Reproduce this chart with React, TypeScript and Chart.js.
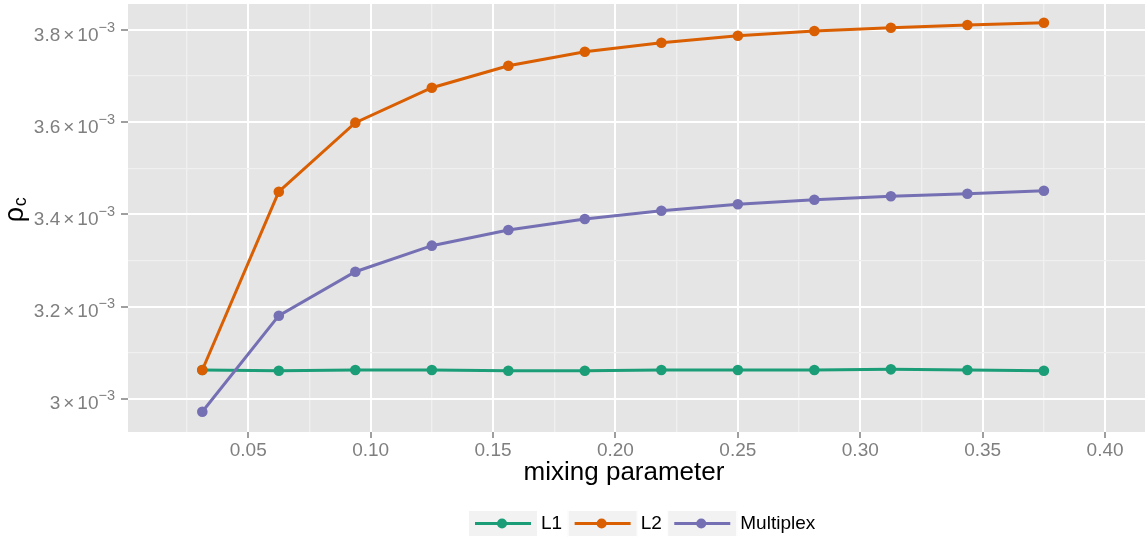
import React, { useEffect, useRef } from 'react';
import { Chart, registerables } from 'chart.js';

Chart.register(...registerables);

// ---- data ----
const seriesNames = ['L1', 'L2', 'Multiplex'];
const mixingParameter = [0.03125, 0.0625, 0.09375, 0.125, 0.15625, 0.1875, 0.21875, 0.25, 0.28125, 0.3125, 0.34375, 0.375];
const l1Values = [3.0622e-3, 3.0607e-3, 3.0622e-3, 3.0622e-3, 3.0607e-3, 3.0607e-3, 3.0622e-3, 3.0622e-3, 3.0622e-3, 3.0636e-3, 3.0622e-3, 3.0607e-3];
const l2Values = [3.0622e-3, 3.4491e-3, 3.5989e-3, 3.6748e-3, 3.7225e-3, 3.7529e-3, 3.7724e-3, 3.7876e-3, 3.7978e-3, 3.805e-3, 3.8109e-3, 3.8158e-3];
const multiplexValues = [2.9717e-3, 3.1801e-3, 3.2755e-3, 3.332e-3, 3.366e-3, 3.3899e-3, 3.4079e-3, 3.4218e-3, 3.4318e-3, 3.4391e-3, 3.4448e-3, 3.4513e-3];

const xMajorTicks = [0.05, 0.1, 0.15, 0.2, 0.25, 0.3, 0.35, 0.4];
const xMinorTicks = [0.025, 0.075, 0.125, 0.175, 0.225, 0.275, 0.325, 0.375];
const xTickLabels = ['0.05', '0.10', '0.15', '0.20', '0.25', '0.30', '0.35', '0.40'];
const yMajorTicks = [3.0e-3, 3.2e-3, 3.4e-3, 3.6e-3, 3.8e-3];
const yMinorTicks = [3.1e-3, 3.3e-3, 3.5e-3, 3.7e-3];
const yTickMantissas = ['3', '3.2', '3.4', '3.6', '3.8'];
const yTickExponent = '\u22123';
const xLimits = [0.0009, 0.4163];
const yLimits = [2.9277e-3, 3.8564e-3];

const xTitle = 'mixing parameter';
const yTitleMain = '\u03c1';
const yTitleSub = 'c';

const seriesColors = ['#1B9E77', '#D95F02', '#7570B3'];
const FONT = '"Liberation Sans", Arial, Helvetica, sans-serif';

const ggplotPlugin = {
  id: 'ggplotDecor',
  beforeDraw(chart: any) {
    const { ctx, chartArea: a } = chart;
    ctx.save();
    ctx.fillStyle = '#E5E5E5';
    ctx.fillRect(a.left, a.top, a.right - a.left, a.bottom - a.top);
    ctx.restore();
  },
  afterDraw(chart: any) {
    const { ctx, chartArea: a } = chart;
    const ys = chart.scales.y;
    ctx.save();
    // y tick labels with superscript exponent
    ctx.fillStyle = '#7F7F7F';
    ctx.textAlign = 'left';
    ctx.textBaseline = 'alphabetic';
    const endX = a.left - 13;
    yMajorTicks.forEach((v, i) => {
      const py = ys.getPixelForValue(v);
      ctx.font = `14.5px ${FONT}`;
      const supW = ctx.measureText(yTickExponent).width;
      const supX = endX - supW;
      ctx.fillText(yTickExponent, supX, py + 1.7);
      ctx.font = `19px ${FONT}`;
      const tenW = ctx.measureText('10').width;
      const timesW = ctx.measureText('\u00d7').width;
      let x = supX - tenW;
      ctx.fillText('10', x, py + 10.7);
      x -= 3 + timesW;
      ctx.fillText('\u00d7', x, py + 10.7);
      const mW = ctx.measureText(yTickMantissas[i]).width;
      x -= 3 + mW;
      ctx.fillText(yTickMantissas[i], x, py + 10.7);
    });

    // x title
    ctx.fillStyle = '#000000';
    ctx.font = `26px ${FONT}`;
    ctx.textAlign = 'center';
    ctx.fillText(xTitle, 624, 479.5);

    // y title (rho with subscript c), rotated
    ctx.save();
    ctx.translate(23, 210);
    ctx.rotate(-Math.PI / 2);
    ctx.textAlign = 'left';
    ctx.font = `27px ${FONT}`;
    const rW = ctx.measureText(yTitleMain).width;
    ctx.font = `18px ${FONT}`;
    const cW = ctx.measureText(yTitleSub).width;
    const start = -(rW + cW) / 2;
    ctx.font = `27px ${FONT}`;
    ctx.fillText(yTitleMain, start, 0);
    ctx.font = `18px ${FONT}`;
    ctx.fillText(yTitleSub, start + rW + 0.5, 3);
    ctx.restore();

    // legend
    let lx = 468;
    const ly = 510;
    const kw = 70;
    const kh = 27;
    ctx.font = `19px ${FONT}`;
    ctx.textBaseline = 'middle';
    ctx.textAlign = 'left';
    seriesNames.forEach((name, i) => {
      ctx.fillStyle = '#F2F2F2';
      ctx.fillRect(lx, ly, kw, kh);
      ctx.strokeStyle = '#FFFFFF';
      ctx.lineWidth = 1;
      ctx.strokeRect(lx + 0.5, ly + 0.5, kw - 1, kh - 1);
      const my = ly + kh / 2;
      ctx.strokeStyle = seriesColors[i];
      ctx.lineWidth = 3;
      ctx.beginPath();
      ctx.moveTo(lx + 7, my);
      ctx.lineTo(lx + kw - 7, my);
      ctx.stroke();
      ctx.fillStyle = seriesColors[i];
      ctx.beginPath();
      ctx.arc(lx + kw / 2 - 1, my, 5, 0, Math.PI * 2);
      ctx.fill();
      ctx.fillStyle = '#000000';
      const tx = lx + kw + 3;
      ctx.fillText(name, tx, my + 0.5);
      lx = tx + ctx.measureText(name).width + 5.5;
    });
    ctx.restore();
  },
};

function buildTicks(major: number[], minor: number[]) {
  return [
    ...major.map((v, i) => ({ value: v, minor: false, idx: i })),
    ...minor.map((v) => ({ value: v, minor: true, idx: -1 })),
  ].sort((p, q) => p.value - q.value);
}

export default function App() {
  const canvasRef = useRef<HTMLCanvasElement | null>(null);

  useEffect(() => {
    if (!canvasRef.current) return;
    const valueSets = [l1Values, l2Values, multiplexValues];
    const datasets = seriesNames.map((name, i) => ({
      label: name,
      data: mixingParameter.map((x, j) => ({ x, y: valueSets[i][j] })),
      borderColor: seriesColors[i],
      backgroundColor: seriesColors[i],
      pointBackgroundColor: seriesColors[i],
      pointBorderWidth: 0,
      pointRadius: 5.3,
      borderWidth: 3,
      tension: 0,
      order: 3 - i,
    }));

    const gridColor = (c: any) => (c.tick && c.tick.minor ? '#F0F0F0' : '#FFFFFF');
    const gridWidth = (c: any) => (c.tick && c.tick.minor ? 1.3 : 2);
    const tickColor = (c: any) => (c.tick && c.tick.minor ? 'rgba(0,0,0,0)' : '#7F7F7F');

    const chart = new Chart(canvasRef.current, {
      type: 'line',
      data: { datasets },
      plugins: [ggplotPlugin],
      options: {
        responsive: false,
        animation: false,
        events: [],
        layout: { autoPadding: false, padding: { top: 4, left: 0, right: 0, bottom: 67 } },
        plugins: { legend: { display: false }, tooltip: { enabled: false } },
        scales: {
          x: {
            type: 'linear',
            min: xLimits[0],
            max: xLimits[1],
            afterBuildTicks: (s: any) => {
              s.ticks = buildTicks(xMajorTicks, xMinorTicks);
            },
            afterFit: (s: any) => {
              s.height = 40;
            },
            border: { display: false },
            grid: {
              color: gridColor,
              lineWidth: gridWidth,
              tickColor,
              tickLength: 6,
              tickWidth: 1.5,
            },
            ticks: {
              autoSkip: false,
              maxRotation: 0,
              padding: 1,
              color: '#7F7F7F',
              font: { family: FONT, size: 19 },
              callback: (_v: any, i: number, ticks: any[]) => {
                const t = ticks[i];
                return t.minor ? '' : xTickLabels[t.idx];
              },
            },
          },
          y: {
            type: 'linear',
            min: yLimits[0],
            max: yLimits[1],
            afterBuildTicks: (s: any) => {
              s.ticks = buildTicks(yMajorTicks, yMinorTicks);
            },
            afterFit: (s: any) => {
              s.width = 128;
            },
            border: { display: false },
            grid: {
              color: gridColor,
              lineWidth: gridWidth,
              tickColor,
              tickLength: 7,
              tickWidth: 1.5,
            },
            ticks: { display: false },
          },
        },
      } as any,
    });
    return () => chart.destroy();
  }, []);

  return (
    <div style={{ position: 'fixed', left: 0, top: 0, width: 1145, height: 539, background: '#FFFFFF' }}>
      <canvas ref={canvasRef} width={1145} height={539} style={{ display: 'block' }} />
    </div>
  );
}
